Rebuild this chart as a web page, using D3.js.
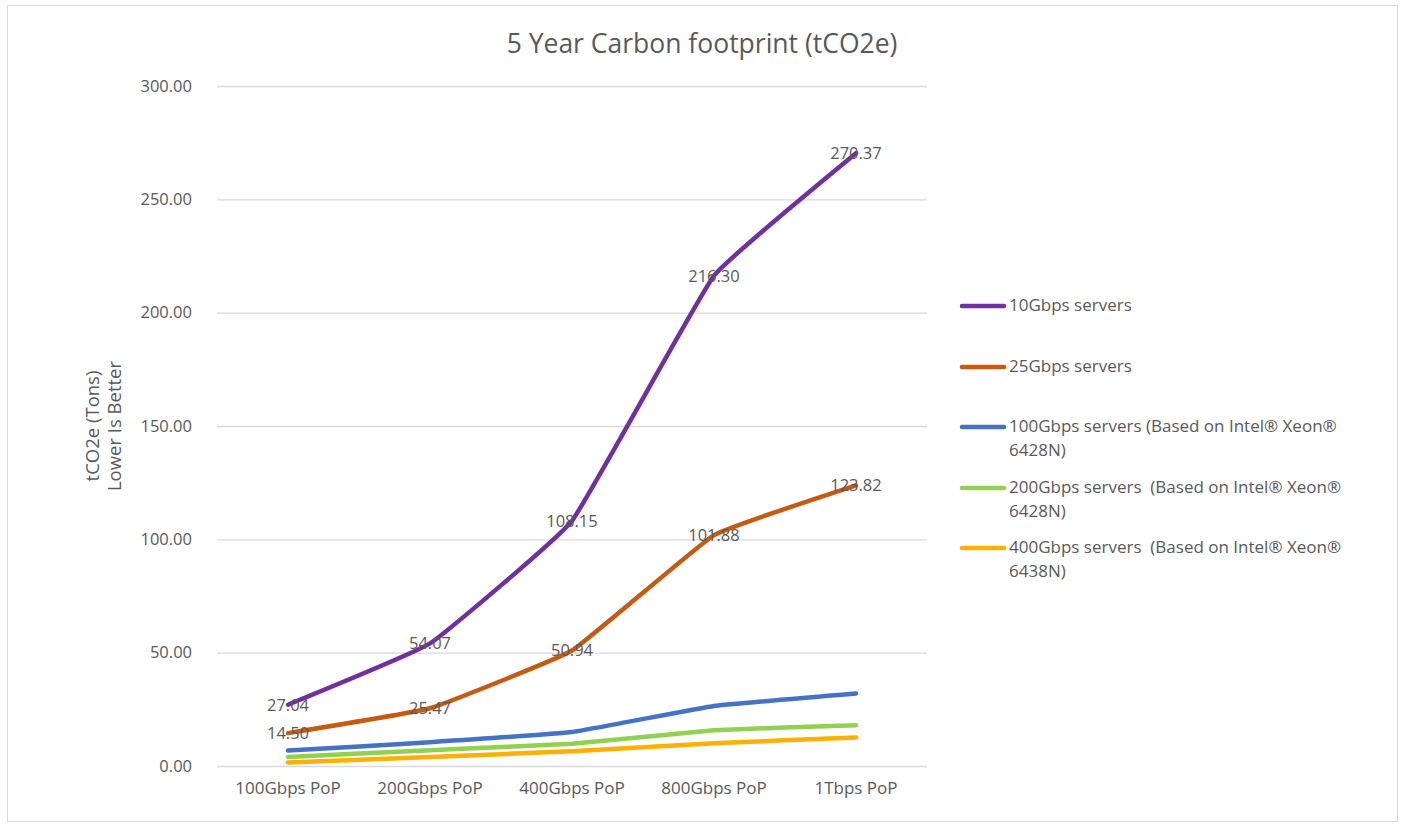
<!DOCTYPE html>
<html>
<head>
<meta charset="utf-8">
<script src="https://cdn.jsdelivr.net/npm/d3@7"></script>
<style>
  html, body { margin: 0; padding: 0; background: #fff; }
  svg { display: block; }
  text { font-family: "Open Sans", "Noto Sans", sans-serif; fill: #595959; white-space: pre; }
</style>
</head>
<body>
<svg id="chart" width="1403" height="825"></svg>
<script>
// Categories along the x axis
const categories = ["100Gbps PoP", "200Gbps PoP", "400Gbps PoP", "800Gbps PoP", "1Tbps PoP"];

// Series names (legend text, line breaks where the legend wraps)
const seriesNames = [
  ["10Gbps servers"],
  ["25Gbps servers"],
  ["100Gbps servers (Based on Intel\u00AE Xeon\u00AE", "6428N)"],
  ["200Gbps servers  (Based on Intel\u00AE Xeon\u00AE", "6428N)"],
  ["400Gbps servers  (Based on Intel\u00AE Xeon\u00AE", "6438N)"]
];

// 5 year footprint per series (tCO2e)
const values10G  = [27.04, 54.07, 108.15, 216.30, 270.37];
const values25G  = [14.50, 25.47, 50.94, 101.88, 123.82];
const values100G = [6.8, 10.5, 15.0, 26.5, 32.0];
const values200G = [4.0, 7.0, 9.8, 15.8, 18.0];
const values400G = [1.5, 4.0, 6.5, 10.0, 12.6];

const seriesValues = [values10G, values25G, values100G, values200G, values400G];
const seriesColors = ["#7030A0", "#C55A11", "#4472C4", "#92D050", "#FFB000"];
const labelled = [true, true, false, false, false];

// Y axis ticks
const yTicks = [0, 50, 100, 150, 200, 250, 300];

const svg = d3.select("#chart");

// outer chart frame
svg.append("rect")
  .attr("x", 7.5).attr("y", 5.5)
  .attr("width", 1390).attr("height", 816)
  .attr("fill", "#fff")
  .attr("stroke", "#d9d9d9").attr("stroke-width", 1);

const plot = { left: 217, right: 927, top: 86, bottom: 766 };

const x = d3.scaleBand().domain(categories).range([plot.left, plot.right]);
const y = d3.scaleLinear().domain([0, 300]).range([plot.bottom, plot.top]);

// title
svg.append("text")
  .attr("x", 702).attr("y", 53)
  .attr("text-anchor", "middle")
  .style("font-size", "26.5px")
  .text("5 Year Carbon footprint (tCO2e)");

// horizontal gridlines + y tick labels
const yAxis = d3.axisLeft(y)
  .tickValues(yTicks)
  .tickSize(-(plot.right - plot.left))
  .tickPadding(25)
  .tickFormat(d3.format(".2f"));

const gy = svg.append("g")
  .attr("transform", `translate(${plot.left},0)`)
  .call(yAxis);
gy.select(".domain").remove();
gy.selectAll(".tick line").attr("stroke", "#d9d9d9").attr("stroke-width", 1.3);
gy.selectAll(".tick text")
  .style("font-size", "16.5px")
  .attr("fill", "#595959");

// x axis category labels
const xAxis = d3.axisBottom(x).tickSize(0).tickPadding(16);
const gx = svg.append("g")
  .attr("transform", `translate(0,${plot.bottom})`)
  .call(xAxis);
gx.select(".domain").remove();
gx.selectAll(".tick text")
  .style("font-size", "17px")
  .attr("fill", "#595959");

// y axis title
const yTitle = svg.append("text")
  .attr("transform", "translate(99,426) rotate(-90)")
  .attr("text-anchor", "middle")
  .style("font-size", "18.5px");
yTitle.append("tspan").attr("x", 0).attr("dy", 0).text("tCO2e (Tons)");
yTitle.append("tspan").attr("x", 0).attr("dy", 22).text("Lower Is Better");

// lightly smoothed series lines
const line = d3.line()
  .x((d, i) => x(categories[i]) + x.bandwidth() / 2)
  .y(d => y(d))
  .curve(d3.curveCardinal.tension(0.72));

// draw bottom series first so the upper ones sit on top
for (let s = seriesValues.length - 1; s >= 0; s--) {
  svg.append("path")
    .datum(seriesValues[s])
    .attr("d", line)
    .attr("fill", "none")
    .attr("stroke", seriesColors[s])
    .attr("stroke-width", 4.5)
    .attr("stroke-linecap", "round")
    .attr("stroke-linejoin", "round");
}

// data labels, centred on the points
seriesValues.forEach((vals, s) => {
  if (!labelled[s]) return;
  svg.append("g").selectAll("text")
    .data(vals)
    .join("text")
    .attr("x", (d, i) => x(categories[i]) + x.bandwidth() / 2)
    .attr("y", d => y(d))
    .attr("dy", "0.36em")
    .attr("text-anchor", "middle")
    .style("font-size", "16.5px")
    .attr("fill", "#404040")
    .text(d => d3.format(".2f")(d));
});

// legend
const legendTops = [306, 367, 427, 488, 548];
const legend = svg.append("g");
seriesNames.forEach((lines, s) => {
  const ly = legendTops[s];
  legend.append("line")
    .attr("x1", 962).attr("x2", 1004)
    .attr("y1", ly).attr("y2", ly)
    .attr("stroke", seriesColors[s])
    .attr("stroke-width", 4.5)
    .attr("stroke-linecap", "round");
  const t = legend.append("text")
    .attr("x", 1009).attr("y", ly + 5)
    .attr("dy", "0.35em")
    .style("font-size", "17px");
  lines.forEach((ln, k) => {
    t.append("tspan").attr("x", 1009).attr("dy", k === 0 ? 0 : 24).text(ln);
  });
});
</script>
</body>
</html>
